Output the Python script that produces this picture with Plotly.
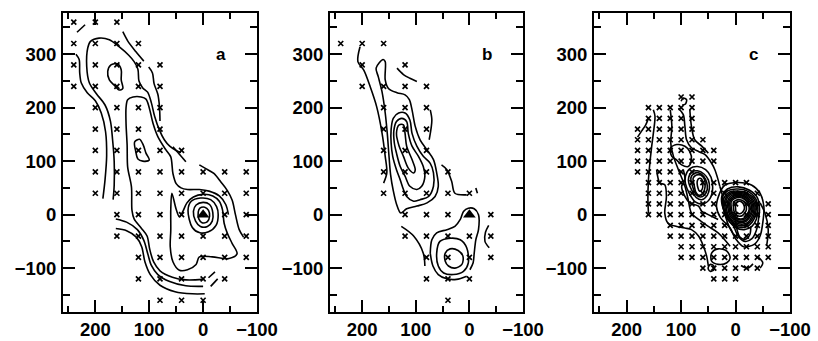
import plotly.graph_objects as go

# ---------------- data: grid points (x markers), by row y -> list of x ----------------
A_ROWS = {
    360: [240, 200, 160],
    320: [240, 200, 160, 120],
    280: [240, 200, 160, 120, 80],
    240: [240, 200, 160, 120, 80],
    200: [200, 160, 120, 80],
    160: [200, 160, 120, 80],
    120: [200, 160, 120, 80, 40],
    80: [200, 160, 120, 80, 40, 0, -40, -80],
    40: [200, 160, 120, 80, 40, 0, -40, -80],
    0: [160, 120, 80, 40, -40, -80],
    -40: [160, 120, 80, 40, 0, -40, -80],
    -80: [120, 80, 40, 0, -40, -80],
    -120: [120, 80, 40, 0, -40],
    -160: [80, 40, 0],
}
B_ROWS = {
    320: [240, 200, 160],
    280: [200, 120],
    240: [200, 160, 120, 80],
    200: [160, 120, 80],
    160: [160, 120, 80],
    120: [160, 120, 80],
    80: [160, 120, 80, 40],
    40: [160, 120, 80, 40, 0],
    0: [120, 80, 40, -40],
    -40: [120, 80, 40, 0, -40],
    -80: [80, 40, 0, -40],
    -120: [80, 40, 0],
    -160: [40],
}
C_ROWS = {
    220: [100, 80],
    200: [160, 140, 120, 100, 80],
    180: [160, 140, 120, 100, 80],
    160: [180, 160, 140, 120, 100, 80],
    140: [180, 160, 140, 120, 100, 80, 60],
    120: [180, 160, 140, 120, 100, 80, 60, 40],
    100: [180, 160, 140, 120, 100, 80, 60, 40],
    80: [180, 160, 140, 120, 100, 80],
    60: [160, 140, 120, 100, 80, 60, 40, 20, 0, -20],
    40: [160, 140, 120, 100, 80, 60, 40, 20, 0, -20, -40],
    20: [160, 140, 120, 100, 80, 60, 40, 20, 0, -20, -40, -60],
    0: [160, 140, 120, 100, 80, 60, 40, 20, 0, -20, -40, -60],
    -20: [120, 100, 80, 60, 40, 20, 0, -20, -40, -60],
    -40: [120, 100, 80, 60, 40, 20, 0, -20, -40, -60],
    -60: [100, 80, 60, 40, 20, 0, -20, -40, -60],
    -80: [100, 80, 60, 40, 20, 0, -20, -40, -60],
    -100: [60, 40, 20, 0, -20, -40],
    -120: [40, 20, 0],
}
TRIANGLES_A = [(0, 0)]
TRIANGLES_B = [(0, 0)]

# ---------------- data: contour lines (x, y) ----------------
A_LINES = [
    [(234, 341), (219, 355)],
    [(236, 300), (230, 290), (229, 265), (226, 246), (215, 228), (200, 213), (189, 190),
     (181, 155), (179, 110), (182, 65), (186, 30)],
    [(167, 28), (165, 55), (165, 100), (168, 140), (172, 175), (182, 205), (198, 226),
     (211, 246), (216, 277), (214, 312), (209, 324), (193, 330), (174, 327), (156, 314),
     (138, 298), (128, 286), (121, 272), (119, 250), (112, 237), (103, 229), (96, 209),
     (90, 184), (81, 158), (72, 140), (62, 128), (50, 120), (41, 116)],
    [(149, 342), (140, 325), (125, 305), (110, 287)],
    [(101, 276), (94, 265), (91, 245), (84, 225), (81, 202), (80, 175)],
    [(56, 127), (32, 99)],
    [(7, 93), (-5, 86), (-20, 77), (-33, 61), (-45, 45), (-54, 27), (-60, 0), (-67, -28), (-75, -42)],
    [(171, 280), (159, 282), (152, 271), (152, 252), (149, 236), (156, 233), (165, 242),
     (174, 252), (177, 268), (171, 280)],
    [(127, 136), (118, 141), (111, 130), (106, 115), (100, 102), (112, 100), (121, 104),
     (125, 118), (127, 136)],
    [(0, -121), (32, -122), (57, -117), (80, -105), (92, -88), (99, -65), (104, -40),
     (115, -25), (128, -8), (132, 8), (133, 52), (140, 89), (141, 130), (143, 170),
     (143, 200), (140, 215), (130, 220), (115, 220), (106, 216), (100, 200), (93, 171),
     (84, 146), (69, 121), (60, 108), (56, 77), (50, 58), (41, 50), (29, 47), (7, 47),
     (-11, 44), (-30, 35), (-42, 19), (-47, 0)],
    [(58, 40), (60, 10), (60, -29), (61, -60), (56, -88), (44, -104), (29, -103), (13, -93),
     (7, -79), (-17, -79), (-48, -82), (-63, -73), (-54, -54), (-45, -35), (-39, -16),
     (-36, 9), (-30, 25), (-18, 35), (0, 38), (18, 33), (30, 22), (38, 5), (44, -4),
     (50, 10), (58, 40)],
    [(28, 8), (22, 25), (5, 31), (-14, 28), (-25, 15), (-28, 0), (-24, -20), (-10, -32),
     (6, -34), (20, -24), (28, 8)],
    [(18, 6), (13, 18), (0, 23), (-12, 19), (-18, 4), (-17, -12), (-8, -22), (5, -22),
     (14, -12), (18, 6)],
    [(9, 5), (6, 12), (-3, 14), (-10, 8), (-12, -3), (-8, -13), (2, -15), (8, -8), (9, 5)],
    [(162, -8), (142, -14), (122, -28), (110, -48), (103, -72), (96, -95), (84, -112),
     (62, -125), (32, -133), (0, -134)],
    [(162, -26), (142, -30), (124, -42), (114, -60), (108, -88), (98, -112), (80, -132),
     (52, -144), (20, -148), (-3, -148)],
    [(-10, -118), (-22, -107)],
    [(-14, -134), (-27, -120)],
]

B_LINES = [
    [(204, 314), (208, 286), (197, 270), (185, 239), (173, 202), (163, 153), (157, 109),
     (154, 78), (160, 59)],
    [(135, 274), (123, 262), (111, 255), (98, 249)],
    [(73, 196), (70, 177), (75, 140)],
    [(52, 93), (42, 84), (33, 62), (27, 40), (5, 37)],
    [(-12, 50), (-15, 40)],
    [(174, 274), (161, 290), (157, 286), (157, 252), (151, 236), (135, 228), (120, 224),
     (112, 215), (107, 196), (101, 165), (92, 140), (79, 121), (67, 103), (61, 78), (58, 53),
     (64, 34), (79, 22), (98, 16), (117, 11), (128, 3), (136, 20), (142, 45), (147, 75),
     (150, 110), (153, 150), (157, 190), (163, 230), (170, 258), (174, 274)],
    [(146, 159), (142, 180), (132, 190), (120, 190), (111, 177), (107, 152), (98, 128),
     (86, 109), (73, 96), (67, 78), (67, 53), (76, 34), (92, 28), (104, 25), (117, 34),
     (123, 47), (129, 65), (136, 84), (143, 109), (146, 134), (146, 159)],
    [(141, 156), (136, 174), (126, 180), (117, 174), (114, 152), (107, 128), (95, 109),
     (86, 90), (83, 72), (89, 53), (98, 47), (111, 53), (120, 72), (129, 90), (136, 115),
     (140, 134), (141, 156)],
    [(136, 152), (131, 168), (123, 168), (120, 152), (117, 128), (107, 103), (101, 84),
     (104, 78), (114, 87), (123, 109), (131, 128), (136, 152)],
    [(45, -72), (36, -64), (21, -67), (12, -78), (14, -93), (27, -100), (39, -96), (45, -87),
     (45, -72)],
    [(61, -72), (55, -50), (36, -44), (17, -47), (5, -62), (2, -90), (11, -106), (30, -112),
     (48, -109), (58, -96), (61, -72)],
    [(73, -72), (70, -47), (61, -34), (42, -28), (27, -22), (17, -9), (11, 6), (2, 12),
     (-9, 11), (-17, 0), (-17, -28), (-12, -47), (-9, -72), (-7, -90), (-1, -103)],
    [(5, -115), (24, -121), (42, -120), (58, -112), (68, -96), (73, -72)],
    [(-36, -20), (-30, -33), (-29, -50), (-37, -62)],
    [(127, -22), (104, -40), (86, -72), (83, -96)],
]

C_LINES = [
    [(180, 145), (172, 157), (165, 168), (160, 180)],
    [(151, 196), (148, 184), (151, 152), (154, 128), (158, 90), (160, 65), (161, 30), (160, 3)],
    [(145, 84), (139, 59), (130, 56), (127, 34), (130, 3), (124, -16), (108, -22), (93, -25),
     (81, -28), (68, -40), (59, -59), (53, -78), (50, -96)],
    [(120, 196), (117, 165), (119, 134), (114, 109), (105, 84), (93, 53), (87, 28), (81, 3),
     (68, -9), (50, -22), (32, -34), (20, -47), (10, -59)],
    [(96, 84), (93, 65), (99, 53), (93, 34), (84, 22), (68, 16), (62, 6), (56, 3), (44, -3),
     (32, -9)],
    [(100, 212), (96, 218), (90, 215), (92, 207), (98, 205)],
    [(105, 199), (96, 187), (93, 165), (90, 140), (81, 125), (68, 118), (56, 112), (44, 96),
     (38, 84), (32, 65), (29, 53)],
    [(84, 196), (81, 165), (75, 140), (62, 128), (50, 115)],
    [(120, 124), (108, 131), (93, 128), (84, 118), (81, 102), (87, 90), (99, 93), (108, 102),
     (117, 109), (120, 124)],
    # secondary peak near (65, 56)
    [(92, 72), (84, 86), (70, 90), (55, 84), (45, 70), (42, 50), (47, 30), (60, 20), (74, 24),
     (85, 40), (92, 58), (92, 72)],
    [(86, 70), (80, 80), (70, 82), (58, 76), (50, 65), (48, 50), (52, 36), (62, 28), (72, 32),
     (80, 45), (86, 60), (86, 70)],
    [(82, 69), (76, 77), (67, 78), (58, 71), (53, 60), (52, 47), (57, 37), (64, 33), (72, 37),
     (78, 50), (82, 69)],
    [(78, 68), (72, 74), (64, 74), (57, 66), (56, 52), (60, 40), (67, 36), (73, 42), (76, 55),
     (78, 68)],
    [(70, 64), (66, 68), (62, 66), (60, 56), (62, 46), (66, 44), (69, 50), (70, 64)],
    [(29, 53), (24, 35), (22, 15), (18, -5), (12, -22), (5, -35)],
    # main peak near (-8, 15)
    [(30, 38), (20, 55), (-5, 60), (-30, 55), (-45, 40), (-52, 15), (-50, -15), (-45, -40),
     (-35, -55), (-15, -60), (0, -45), (10, -25), (28, -5), (35, 15), (30, 38)],
    [(25, 35), (15, 48), (-5, 52), (-25, 46), (-40, 32), (-44, 10), (-42, -10), (-38, -30),
     (-30, -45), (-18, -50), (-6, -42), (2, -25), (8, -10), (20, 5), (25, 20), (25, 35)],
    [(24, 33), (14, 45), (-5, 48), (-24, 43), (-37, 30), (-41, 10), (-38, -9), (-30, -22),
     (-16, -28), (0, -24), (13, -10), (22, 10), (24, 33)],
    [(22, 30), (12, 42), (-5, 44), (-22, 40), (-35, 28), (-38, 10), (-34, -8), (-25, -20),
     (-12, -24), (2, -20), (15, -8), (22, 10), (22, 30)],
    [(19, 29), (10, 40), (-6, 42), (-21, 38), (-33, 26), (-36, 10), (-32, -6), (-23, -17),
     (-11, -21), (1, -17), (13, -6), (19, 11), (19, 29)],
    [(17, 28), (9, 38), (-6, 40), (-20, 36), (-31, 25), (-34, 10), (-30, -4), (-22, -15),
     (-11, -18), (1, -14), (12, -4), (17, 12), (17, 28)],
    [(14, 27), (7, 36), (-6, 38), (-19, 34), (-29, 24), (-32, 10), (-28, -2), (-20, -12),
     (-10, -15), (0, -11), (10, -2), (14, 12), (14, 27)],
    [(12, 26), (5, 34), (-7, 36), (-18, 32), (-27, 23), (-30, 10), (-26, -1), (-19, -10),
     (-10, -13), (0, -9), (9, 1), (12, 13), (12, 26)],
    [(10, 25), (3, 32), (-7, 34), (-17, 30), (-25, 21), (-27, 10), (-24, 0), (-17, -8),
     (-9, -10), (-1, -7), (7, 2), (10, 13), (10, 25)],
    [(8, 24), (2, 30), (-8, 32), (-17, 28), (-23, 20), (-25, 10), (-22, 1), (-16, -6),
     (-9, -8), (-1, -5), (6, 4), (8, 14), (8, 24)],
    [(4, 22), (-1, 27), (-8, 28), (-15, 25), (-19, 18), (-20, 10), (-17, 3), (-12, -2),
     (-7, -3), (-1, 0), (3, 7), (4, 15), (4, 22)],
    [(0, 20), (-3, 24), (-8, 25), (-13, 22), (-16, 16), (-16, 10), (-13, 5), (-9, 2), (-5, 2),
     (-1, 5), (0, 12), (0, 20)],
    [(1, -5), (-2, -25), (-8, -42), (-18, -46), (-26, -38), (-28, -22)],
    [(-45, 22), (-54, 3), (-60, -28), (-57, -59)],
    [(44, -72), (32, -64), (16, -68), (10, -81), (16, -90), (32, -93), (44, -87), (44, -72)],
    [(50, -98), (46, -93), (40, -96), (40, -103), (46, -106), (50, -102), (50, -98)],
    [(-10, -95), (-22, -100), (-32, -92)],
    [(-42, -80), (-50, -90), (-45, -100)],
]

X_TICKS = [200, 100, 0, -100]
X_MINOR = [250, 150, 50, -50]
Y_TICKS = [-100, 0, 100, 200, 300]
Y_MINOR = [-150, -50, 50, 150, 250, 350]
PANEL_LABELS = ["a", "b", "c"]
LABEL_POS = (-33, 300)

# ---------------- figure ----------------
W, H = 818, 341
x_domains = [(63 / W, 257 / W), (330 / W, 523 / W), (594 / W, 790 / W)]
y_domain = (1 - 312 / H, 1 - 13 / H)
x_ranges = [[260, -100], [260, -100], [260, -100]]
y_range = [-182, 377]

fig = go.Figure()
panels = [(A_ROWS, A_LINES, TRIANGLES_A), (B_ROWS, B_LINES, TRIANGLES_B), (C_ROWS, C_LINES, [])]
TICKFONT = dict(family="Liberation Sans", size=18.5, color="black", weight="bold")

for i, (rows, lines, tris) in enumerate(panels):
    sfx = "" if i == 0 else str(i + 1)
    xa, ya = "x" + sfx, "y" + sfx
    for ln in lines:
        fig.add_trace(go.Scatter(
            x=[p[0] for p in ln], y=[p[1] for p in ln], mode="lines",
            line=dict(color="black", width=1.6, shape="spline", smoothing=0.9),
            xaxis=xa, yaxis=ya, hoverinfo="skip", showlegend=False))
    mx, my = [], []
    for yv, xs in rows.items():
        for xv in xs:
            mx.append(xv)
            my.append(yv)
    fig.add_trace(go.Scatter(
        x=mx, y=my, mode="markers",
        marker=dict(symbol="x-thin", size=5, color="black", line=dict(width=1.7, color="black")),
        xaxis=xa, yaxis=ya, hoverinfo="skip", showlegend=False))
    if tris:
        fig.add_trace(go.Scatter(
            x=[t[0] for t in tris], y=[t[1] for t in tris], mode="markers",
            marker=dict(symbol="triangle-up", size=11, color="black"),
            xaxis=xa, yaxis=ya, hoverinfo="skip", showlegend=False))
    axis_common = dict(
        showgrid=False, zeroline=False, showline=True, linecolor="black", linewidth=2,
        mirror="ticks", ticks="inside", ticklen=12, tickwidth=2, tickcolor="black",
        tickfont=TICKFONT,
    )
    fig.update_layout(**{
        "xaxis" + sfx: dict(axis_common, domain=list(x_domains[i]), range=x_ranges[i],
                            tickvals=X_TICKS, ticklabelstandoff=0, anchor=ya,
                            minor=dict(tickvals=X_MINOR, ticks="inside", ticklen=6,
                                       tickwidth=2, tickcolor="black")),
        "yaxis" + sfx: dict(axis_common, domain=list(y_domain), range=y_range,
                            tickvals=Y_TICKS, ticklabelstandoff=1, anchor=xa,
                            minor=dict(tickvals=Y_MINOR, ticks="inside", ticklen=7,
                                       tickwidth=2, tickcolor="black")),
    })
    fig.add_annotation(x=LABEL_POS[0], y=LABEL_POS[1], xref=xa, yref=ya,
                       text="<b>%s</b>" % PANEL_LABELS[i], showarrow=False,
                       font=dict(family="Liberation Sans", size=17, color="black"))

# size follows the browser viewport (818x341), no page margin or scrollbars
fig.update_layout(autosize=True, margin=dict(l=0, r=0, t=0, b=0, autoexpand=False),
                  paper_bgcolor="white", plot_bgcolor="white")
fig.write_html(
    "out.html",
    default_width="100vw",
    default_height="100vh",
    config={"displayModeBar": False, "staticPlot": True, "responsive": True},
    post_script=("document.documentElement.style.margin='0';"
                 "document.documentElement.style.overflow='hidden';"
                 "document.body.style.margin='0';"
                 "document.body.style.overflow='hidden';"
                 "Plotly.Plots.resize(document.getElementById('{plot_id}'));"),
)
